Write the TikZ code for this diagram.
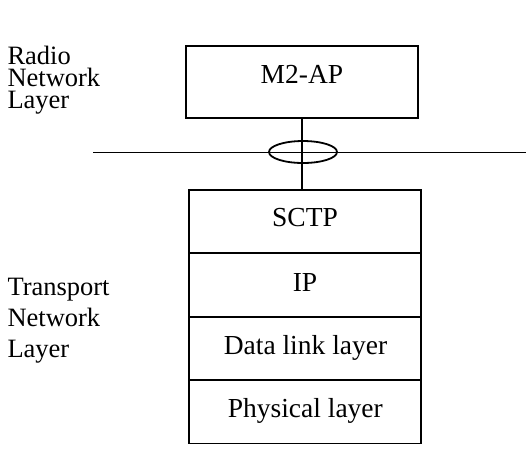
\documentclass[tikz,border=0pt]{standalone}
\usepackage{fontspec}
\setmainfont{Liberation Serif}
\usetikzlibrary{shapes.geometric}
\begin{document}
\begin{tikzpicture}[x=1pt,y=-1pt,
  line/.style={line width=1.8pt},
  boxstyle/.style={draw,line width=1.8pt,inner sep=0pt},
  lbl/.style={font=\fontsize{27.5}{27.5}\selectfont,inner sep=0pt,anchor=base},
  side/.style={inner sep=0pt,anchor=base west,align=left}]
\useasboundingbox (0,0) rectangle (532,459);
% M2-AP box
\node[boxstyle,minimum width=231.5pt,minimum height=72.5pt] (ap) at (302,82) {};
\node[lbl] (aptxt) at (302,83.3) {M2-AP};
% stack
\node[boxstyle,minimum width=231.5pt,minimum height=63.3pt] (sctp) at (305,221.4) {};
\node[boxstyle,minimum width=231.5pt,minimum height=63.8pt] (ip) at (305,284.8) {};
\node[boxstyle,minimum width=231.5pt,minimum height=63.6pt] (dl) at (305,348.5) {};
\node[boxstyle,minimum width=231.5pt,minimum height=63.3pt] (phy) at (305,411.8) {};
\node[lbl] at (305,226.7) {SCTP};
\node[lbl] at (305,291) {IP};
\node[lbl] at (305.5,354.2) {Data link layer};
\node[lbl] at (305.3,417.3) {Physical layer};
% interface line
\coordinate (hl) at (93,152.5);
\coordinate (hr) at (526,152.5);
\draw[line] (hl) -- (hr);
\node[draw,line width=1.8pt,ellipse,minimum width=68pt,minimum height=22pt,inner sep=0pt] (ell) at (303,152) {};
\draw[line] (ap.south) -- (ap.south |- sctp.north);
% side labels (base anchor = last line's baseline)
\node[side,font=\fontsize{26.5}{22}\selectfont] (rnl) at (7.3,108) {Radio\\Network\\Layer};
\node[side,font=\fontsize{26.5}{31}\selectfont] (tnl) at (7.3,357) {Transport\\Network\\Layer};
\end{tikzpicture}
\end{document}
